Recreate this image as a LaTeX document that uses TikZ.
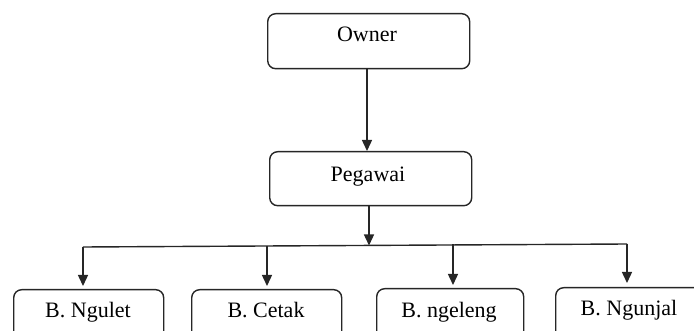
\documentclass[tikz,border=0pt]{standalone}
\usepackage{fontspec}
\setmainfont{Liberation Serif}
\usetikzlibrary{arrows.meta}
\begin{document}
\begin{tikzpicture}[x=1pt,y=-1pt,
  box/.style={draw=black!85, line width=1.4pt, rounded corners=8pt, inner sep=0pt, anchor=north west},
  lbl/.style={anchor=base, inner sep=0pt, font=\fontsize{22}{26}\selectfont},
  conn/.style={draw=black!85, line width=1.4pt},
  arr/.style={conn, -{Triangle[width=10pt,length=11pt]}}]
\useasboundingbox (0,0) rectangle (694,331);
\clip (0,0) rectangle (694,331);
% boxes
\node[box, minimum width=202pt, minimum height=55pt] (owner) at (267,13) {};
\node[box, minimum width=202pt, minimum height=54pt] (pegawai) at (269,151) {};
\node[box, minimum width=150pt, minimum height=60pt] (ngulet) at (13,289) {};
\node[box, minimum width=150pt, minimum height=60pt] (cetak) at (191,289) {};
\node[box, minimum width=147pt, minimum height=60pt] (ngeleng) at (376,288) {};
\node[box, minimum width=150pt, minimum height=60pt] (ngunjal) at (555,287) {};
% texts
\node[lbl] (towner) at (367,42) {Owner};
\node[lbl] (tpegawai) at (368,182) {Pegawai};
\node[lbl] (tngulet) at (88,318) {B. Ngulet};
\node[lbl] (tcetak) at (266,318) {B. Cetak};
\node[lbl] (tngeleng) at (449,317) {B. ngeleng};
\node[lbl] (tngunjal) at (629,316) {B. Ngunjal};
% connector coordinates
\coordinate (hl) at (83,247);
\coordinate (hr) at (627,244);
\coordinate (hm) at (369,245.5);
\coordinate (h2) at (267,246);
\coordinate (h3) at (453,244.5);
\coordinate (t1) at (83,286);
\coordinate (t2) at (267,286);
\coordinate (t3) at (453,285);
\coordinate (t4) at (627,283);
% connectors
\draw[arr] (owner.south -| 367,0) -- (367,151);
\draw[arr] (pegawai.south -| hm) -- (hm);
\draw[conn] (hl) -- (hr);
\draw[arr] (hl) -- (t1);
\draw[arr] (h2) -- (t2);
\draw[arr] (h3) -- (t3);
\draw[arr] (hr) -- (t4);
\end{tikzpicture}
\end{document}
